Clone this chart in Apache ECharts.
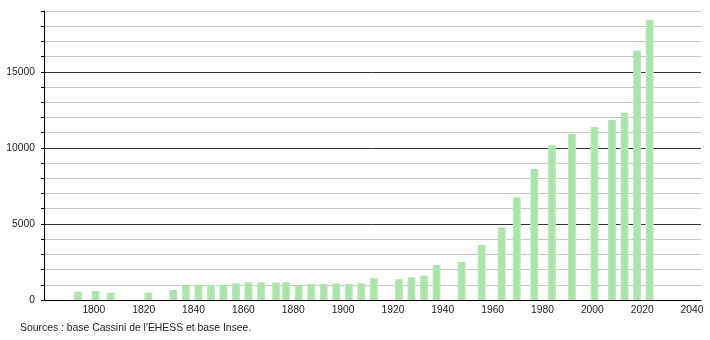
<!DOCTYPE html>
<html>
<head>
<meta charset="utf-8">
<script src="https://cdn.jsdelivr.net/npm/echarts@6/dist/echarts.min.js"></script>
<style>html,body{margin:0;padding:0;background:#fff;}#c{width:710px;height:340px;}</style>
</head>
<body>
<div id="c"></div>
<script>
const years = [1793,1800,1806,1821,1831,1836,1841,1846,1851,1856,1861,1866,1872,1876,1881,1886,1891,1896,1901,1906,1911,1921,1926,1931,1936,1946,1954,1962,1968,1975,1982,1990,1999,2006,2011,2016,2021];
const population = [550,590,480,480,660,965,1000,990,1000,1100,1160,1160,1160,1160,965,1050,1050,1090,1050,1100,1430,1360,1490,1600,2300,2500,3620,4780,6760,8620,10180,10920,11380,11840,12300,16380,18420];
const yLabelValues = [0,5000,10000,15000];
const xLabelValues = [1800,1820,1840,1860,1880,1900,1920,1940,1960,1980,2000,2020,2040];
const sourceText = "Sources : base Cassini de l'EHESS et base Insee.";

const chart = echarts.init(document.getElementById('c'), null, {renderer:'canvas'});
const font = 'Liberation Sans, Arial, sans-serif';
chart.setOption({
  animation:false,
  backgroundColor:'#fff',
  grid:{left:44,right:9,top:11,bottom:40,containLabel:false},
  xAxis:[{
    type:'value',min:1780,max:2043.6,interval:20,
    axisLine:{show:true,lineStyle:{color:'#000',width:1}},
    axisTick:{show:false},
    splitLine:{show:false},
    axisLabel:{fontFamily:font,fontSize:10.3,color:'#222',margin:5,showMaxLabel:false,
      formatter:v=>xLabelValues.includes(v)?String(v):''}
  },{
    type:'value',min:1779.4,max:2041.5,show:false,
    splitLine:{show:false}
  }],
  yAxis:{
    type:'value',min:0,max:19000,interval:1000,
    axisLine:{show:true,lineStyle:{color:'#000',width:1}},
    axisTick:{show:true,length:3,lineStyle:{color:'#000'}},
    splitLine:{show:true,lineStyle:{color:['#333','#c8c8c8','#c8c8c8','#c8c8c8','#c8c8c8'],width:1}},
    axisLabel:{fontFamily:font,fontSize:10.3,color:'#222',margin:9,
      formatter:v=>yLabelValues.includes(v)?String(v):''}
  },
  series:[{
    type:'bar',
    xAxisIndex:1,
    barWidth:8,
    data:years.map((y,i)=>[y,population[i]]),
    itemStyle:{color:new echarts.graphic.LinearGradient(0,0,1,0,[
      {offset:0,color:'#bfeabf'},{offset:0.25,color:'#abe3ab'},{offset:0.75,color:'#abe3ab'},{offset:1,color:'#bfeabf'}])}
  }],
  graphic:[{type:'text',left:20,top:323,style:{text:sourceText,font:'10.4px '+font,fill:'#222'}}]
});
</script>
</body>
</html>
